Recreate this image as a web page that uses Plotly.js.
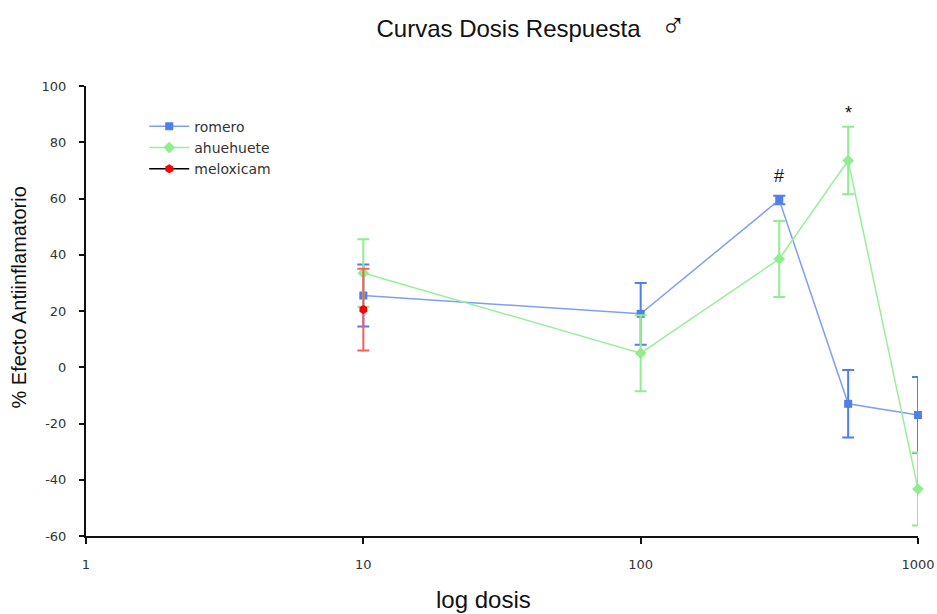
<!DOCTYPE html>
<html><head><meta charset="utf-8">
<script src="https://cdn.plot.ly/plotly-3.0.1.min.js"></script>
<style>html,body{margin:0;padding:0;background:#fff}</style>
</head><body><div id="chart" style="width:937px;height:614px"></div>
<script>
const romeroX = [10, 100, 316, 560, 1000];
const romeroY = [25.5, 19, 59.5, -13, -17];
const romeroErr = [11, 11, 1.5, 12, 13.5];
const ahuehueteX = [10, 100, 316, 560, 1000];
const ahuehueteY = [33.5, 5, 38.5, 73.5, -43.3];
const ahuehueteErr = [12, 13.5, 13.5, 12, 13];
const meloxicamX = [10];
const meloxicamY = [20.5];
const meloxicamErr = [14.5];
const xTickVals = [1, 10, 100, 1000];
const xTickText = ['1', '10', '100', '1000'];
const yTickVals = [-60, -40, -20, 0, 20, 40, 60, 80, 100];
const yTickText = ['-60', '-40', '-20', '0', '20', '40', '60', '80', '100'];
const marks = [{x: 316, y: 59.5, text: '#', shift: 24}, {x: 560, y: 73.5, text: '*', shift: 48}];

const traces = [
  {x: romeroX, y: romeroY, name: 'romero', mode: 'lines+markers', type: 'scatter', cliponaxis: false,
   line: {color: '#7f9ff0', width: 1.5},
   marker: {symbol: 'square', size: 8, color: '#4f7fe8'},
   error_y: {type: 'data', array: romeroErr, visible: true, color: '#4f7fe8', thickness: 2, width: 6}},
  {x: ahuehueteX, y: ahuehueteY, name: 'ahuehuete', mode: 'lines+markers', type: 'scatter', cliponaxis: false,
   line: {color: '#99ef99', width: 1.5},
   marker: {symbol: 'diamond', size: 9, color: '#8fee8f'},
   error_y: {type: 'data', array: ahuehueteErr, visible: true, color: '#8fee8f', thickness: 2, width: 6}},
  {x: meloxicamX, y: meloxicamY, name: 'meloxicam', mode: 'lines+markers', type: 'scatter', cliponaxis: false,
   line: {color: '#000000', width: 1.5},
   marker: {symbol: 'hexagon', size: 9, color: '#ff0000'},
   error_y: {type: 'data', array: meloxicamErr, visible: true, color: '#ff5c5c', thickness: 2, width: 6}}
];

const annos = marks.map(m => ({x: Math.log10(m.x), y: m.y, xref: 'x', yref: 'y', text: m.text,
    showarrow: false, yshift: m.shift, font: {size: 18, color: '#111'}}));
annos.push({text: 'log dosis', xref: 'paper', yref: 'paper', x: 0.478, y: -0.142, xanchor: 'center', yanchor: 'middle',
    showarrow: false, font: {size: 24, color: '#111', family: 'Liberation Sans, Arial, sans-serif'}});
annos.push({text: '% Efecto Antiinflamatorio', xref: 'paper', yref: 'paper', x: -0.08, y: 0.531, xanchor: 'center', yanchor: 'middle',
    textangle: -90, showarrow: false, font: {size: 20, color: '#111', family: 'Liberation Sans, Arial, sans-serif'}});

const layout = {
  width: 937, height: 614,
  margin: {l: 86, r: 19, t: 86, b: 78},
  paper_bgcolor: '#fff', plot_bgcolor: '#fff',
  font: {family: 'Liberation Sans, Arial, sans-serif', size: 13, color: '#222'},
  title: {text: 'Curvas Dosis Respuesta&nbsp;&nbsp;&nbsp;<span style="font-size:34px">♂</span>', x: 0.567, xref: 'container', xanchor: 'center', y: 0.953, yanchor: 'middle',
          font: {size: 24, color: '#111', family: 'Liberation Sans, Arial, sans-serif'}},
  xaxis: {type: 'log', range: [0, 3], tickvals: xTickVals, ticktext: xTickText,
          showgrid: false, zeroline: false, showline: true, linecolor: '#111', linewidth: 2,
          ticks: 'outside', ticklen: 6, tickwidth: 2, tickcolor: '#111', ticklabelstandoff: 9,
          tickfont: {size: 13, color: '#333', family: 'DejaVu Sans, sans-serif'}},
  yaxis: {range: [-60, 100], tickvals: yTickVals, ticktext: yTickText,
          showgrid: false, zeroline: false, showline: true, linecolor: '#111', linewidth: 2,
          ticks: 'outside', ticklen: 5, tickwidth: 2, tickcolor: '#111', ticklabelstandoff: 10,
          tickfont: {size: 13, color: '#333', family: 'DejaVu Sans, sans-serif'}},
  legend: {x: 0.07, y: 0.945, xanchor: 'left', yanchor: 'top', bgcolor: 'rgba(0,0,0,0)',
           font: {size: 14, color: '#333', family: 'DejaVu Sans, sans-serif'}, tracegroupgap: 0, itemwidth: 40},
  annotations: annos
};
Plotly.newPlot('chart', traces, layout, {displayModeBar: false});
</script></body></html>
